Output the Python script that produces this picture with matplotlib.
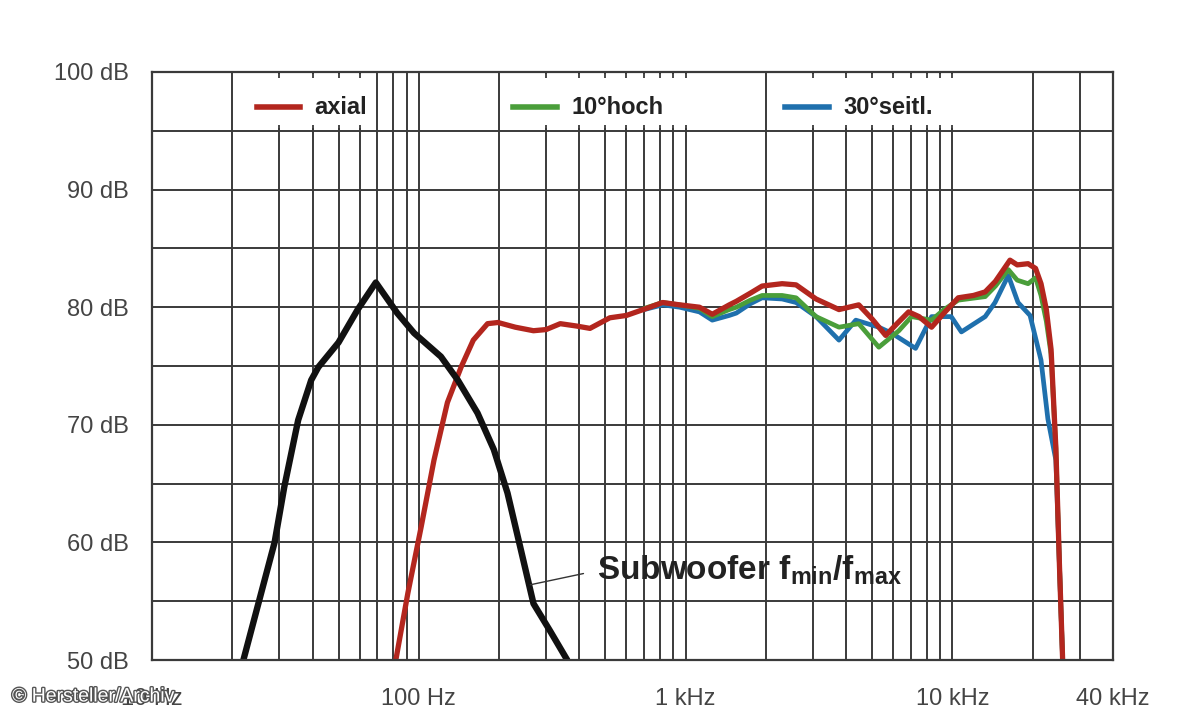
import matplotlib
matplotlib.use('Agg')
import matplotlib.pyplot as plt
import matplotlib.patheffects as pe
from matplotlib import font_manager
from matplotlib.ticker import NullFormatter

# --- data (Hz / dB) ---
sub_freq = [22, 28.8, 31.3, 35.3, 39.5, 42, 50, 59, 69, 83, 96, 121, 140, 166, 191, 215, 240, 269, 310, 360]
sub_db = [50, 60, 64.7, 70.4, 73.8, 74.9, 77.0, 79.8, 82.1, 79.5, 77.8, 75.8, 73.8, 71.0, 67.9, 64.2, 59.6, 54.8, 52.5, 50]

axial_freq = [82, 91, 102, 114, 128, 144, 160, 181, 198, 230, 269, 300, 339, 390, 438, 520, 600, 714,
              820, 950, 1127, 1259, 1458, 1549, 1750, 1936, 2300, 2595, 3083, 3758, 4457, 5000, 5623,
              6200, 6855, 7500, 8356, 9300, 10520, 12000, 13270, 14500, 16440, 17500, 19220, 20500,
              21490, 22500, 23440, 24430, 25200, 25900]
axial_db = [50, 55.7, 61.3, 67.0, 71.9, 74.9, 77.2, 78.6, 78.7, 78.3, 78.0, 78.1, 78.6, 78.4, 78.2, 79.1, 79.3, 79.9,
            80.4, 80.2, 80.0, 79.4, 80.2, 80.5, 81.2, 81.8, 82.0, 81.9, 80.7, 79.8, 80.2, 79.0, 77.6,
            78.6, 79.6, 79.2, 78.3, 79.5, 80.8, 81.0, 81.3, 82.2, 84.0, 83.6, 83.7, 83.3,
            82.0, 79.8, 76.4, 68.0, 58, 50]

hoch_freq = [700, 820, 950, 1127, 1259, 1458, 1549, 1750, 1936, 2300, 2595, 3083, 3758, 4457, 5300,
             6300, 7030, 8356, 9300, 10520, 13270, 14500, 16200, 17500, 19220, 20500, 21490, 22500,
             23440, 24430, 25200, 25900]
hoch_db = [79.9, 80.4, 80.2, 79.9, 79.2, 79.8, 80.0, 80.6, 81.0, 81.0, 80.8, 79.2, 78.3, 78.6, 76.6,
           78.0, 79.2, 78.9, 79.8, 80.6, 80.9, 81.8, 83.2, 82.3, 82.0, 82.5, 81.0, 78.8,
           76.0, 68.0, 58, 50]

seitl_freq = [700, 820, 950, 1127, 1259, 1458, 1549, 1750, 1936, 2300, 2595, 3083, 3758, 4345, 5300,
              5916, 7278, 8356, 9900, 10810, 13270, 14450, 16200, 17620, 19550, 21490, 22800, 24430,
              25200, 25900]
seitl_db = [79.8, 80.2, 80.0, 79.6, 78.9, 79.3, 79.5, 80.3, 80.8, 80.7, 80.4, 79.2, 77.2, 78.9, 78.3,
            77.8, 76.5, 79.2, 79.2, 77.9, 79.2, 80.4, 82.7, 80.4, 79.3, 75.5, 70.5, 67.0,
            58, 50]

x_ticks = [10, 100, 1000, 10000, 40000]
x_labels = ['10 Hz', '100 Hz', '1 kHz', '10 kHz', '40 kHz']
y_ticks = [50, 60, 70, 80, 90, 100]
y_labels = ['50 dB', '60 dB', '70 dB', '80 dB', '90 dB', '100 dB']

legend_labels = ['axial', '10°hoch', '30°seitl.']
legend_colors = ['#b3261e', '#4a9e3a', '#1f70ad']
legend_spans = [(20, 70), (200, 2000), (2000, 20000)]

names = {f.name for f in font_manager.fontManager.ttflist}
narrow = 'Liberation Sans Narrow' if 'Liberation Sans Narrow' in names else 'Liberation Sans'

plt.rcParams['font.family'] = ['Liberation Sans', 'DejaVu Sans']
plt.rcParams['mathtext.fontset'] = 'custom'
plt.rcParams['mathtext.rm'] = narrow + ':bold'
plt.rcParams['mathtext.it'] = narrow + ':bold'
plt.rcParams['mathtext.bf'] = narrow + ':bold'

fig = plt.figure(figsize=(12, 7.2), dpi=100)
ax = fig.add_axes([0.1267, 0.0833, 0.8008, 0.8167])
ax.set_xscale('log')
ax.set_xlim(10, 40000)
ax.set_ylim(50, 100)

grid_color = '#3a3a3a'
minor_x = [m * 10 ** k for k in range(1, 5) for m in range(2, 10) if m * 10 ** k < 40000]
ax.set_xticks(x_ticks)
ax.set_xticklabels(x_labels)
ax.set_xticks(minor_x, minor=True)
ax.xaxis.set_minor_formatter(NullFormatter())
ax.set_yticks(y_ticks)
ax.set_yticklabels(y_labels)
ax.set_yticks([55, 65, 75, 85, 95], minor=True)
ax.tick_params(which='both', length=0, labelsize=17, colors='#444444')
ax.tick_params(axis='x', pad=20)
ax.tick_params(axis='y', pad=17)
ax.set_axisbelow(True)
ax.grid(True, which='both', color=grid_color, lw=1.4)
for s in ax.spines.values():
    s.set_color(grid_color)
    s.set_linewidth(1.6)

# white legend boxes in the top band, with short stubs where grid lines are interrupted
all_x = sorted(minor_x + x_ticks)
for lo, hi in legend_spans:
    ax.fill_between([lo * 1.015, hi / 1.015], 95.25, 99.8, color='white', lw=0, zorder=0.8)
    inner = [t for t in all_x if lo < t < hi]
    ax.vlines(inner, 99.45, 100, color=grid_color, lw=1.3, zorder=0.9)
    ax.vlines(inner, 95, 95.5, color=grid_color, lw=1.3, zorder=0.9)

ax.plot(seitl_freq, seitl_db, color=legend_colors[2], lw=3.4, solid_joinstyle='round', solid_capstyle='round')
ax.plot(hoch_freq, hoch_db, color=legend_colors[1], lw=3.4, solid_joinstyle='round', solid_capstyle='round')
ax.plot(axial_freq, axial_db, color=legend_colors[0], lw=3.8, solid_joinstyle='round', solid_capstyle='round')
ax.plot(sub_freq, sub_db, color='#111111', lw=4.6, solid_joinstyle='round', solid_capstyle='round')

legend_x = [0.109, 0.376, 0.659]
for x0, lab, col in zip(legend_x, legend_labels, legend_colors):
    ax.plot([x0, x0 + 0.045], [0.94, 0.94], transform=ax.transAxes, color=col, lw=4, zorder=3)
    ax.text(x0 + 0.06, 0.94, lab, transform=ax.transAxes, fontsize=17, fontweight='bold',
            color='#222222', va='center', ha='left')

ax.annotate('Subwoofer f$_{\\mathrm{min}}$/f$_{\\mathrm{max}}$', xy=(262, 56.4), xytext=(466, 57.6),
            fontsize=28 if narrow != 'Liberation Sans' else 24, fontweight='bold', family=narrow,
            color='#222222', va='center', ha='left',
            arrowprops=dict(arrowstyle='-', lw=1.0, color='#333333', relpos=(0, 0.5), shrinkA=8, shrinkB=0))

fig.text(0.01, 0.032, '© Hersteller/Archiv', color='white', fontsize=14, va='center',
         path_effects=[pe.withStroke(linewidth=2, foreground='#555555')])

fig.savefig('out.png', dpi=100)
